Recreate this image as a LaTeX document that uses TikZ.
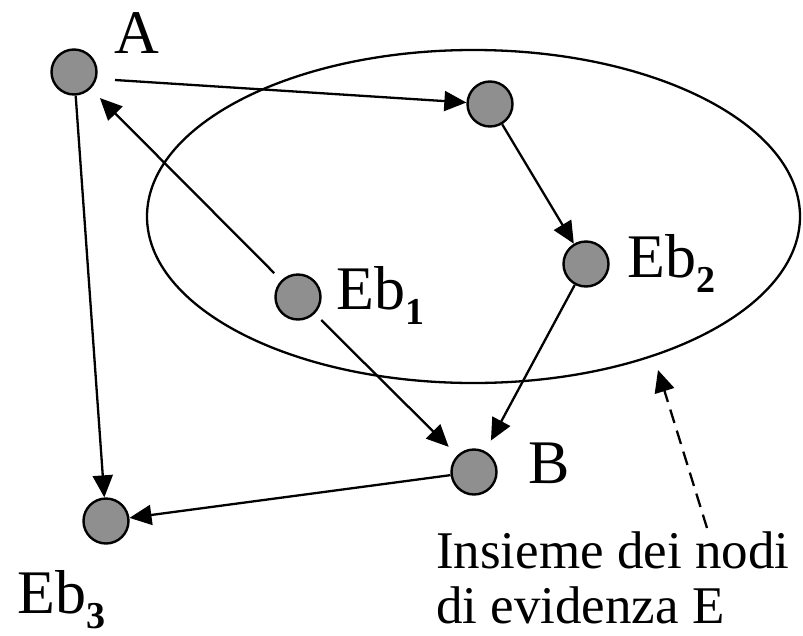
\documentclass[tikz,border=0pt]{standalone}
\usepackage{fontspec}
\setmainfont{Liberation Serif}
\usetikzlibrary{arrows.meta}
\newcommand{\sbd}[1]{\raisebox{-15pt}{\fontsize{38}{38}\selectfont\bfseries #1}}
\begin{document}
\begin{tikzpicture}[x=1pt,y=-1pt,
  vtx/.style={circle,draw=black,line width=2.4pt,fill={rgb,255:red,143;green,143;blue,143},minimum size=45pt,inner sep=0pt},
  lbl/.style={font=\fontsize{62}{62}\selectfont,inner sep=0pt,anchor=base west},
  captxt/.style={font=\fontsize{53}{60}\selectfont,inner sep=0pt,anchor=base west},
  conn/.style={line width=2.3pt,-{Triangle[length=22pt,width=20pt]}},
]
\useasboundingbox (0,0) rectangle (803,635);
\draw[line width=2.3pt] (473.5,216.5) ellipse [x radius=326.5, y radius=166.5];
\node[vtx] (A) at (74,72) {};
\node[vtx] (T) at (490,104) {};
\node[vtx] (E2) at (586,264) {};
\node[vtx] (E1) at (298,297) {};
\node[vtx] (B) at (474,472) {};
\node[vtx] (E3) at (106,521) {};
\node[lbl] (lA) at (114,53) {A};
\node[lbl] (lE1) at (336,309) {Eb\sbd{1}};
\node[lbl] (lE2) at (627,277) {Eb\sbd{2}};
\node[lbl] (lB) at (528,483) {B};
\node[lbl] (lE3) at (17,613) {Eb\sbd{3}};
\node[captxt] (c1) at (436,568) {Insieme dei nodi};
\node[captxt] (c2) at (436,623) {di evidenza E};
\coordinate (dS) at (707,528);
\coordinate (dE) at (658,370);
\draw[conn] ([shift={(41,8)}]A.center) -- (T);
\draw[conn] (T) -- (E2);
\draw[conn,shorten <=10pt,shorten >=13pt] (E1) -- (A);
\draw[conn,shorten <=9pt,shorten >=12pt] (E1) -- (B);
\draw[conn,shorten >=12pt] (E2) -- (B);
\draw[conn] (A) -- (E3);
\draw[conn] (B) -- (E3);
\draw[line width=2.3pt,dash pattern=on 14pt off 8pt,-{Triangle[length=22pt,width=20pt]}] (dS) -- (dE);
\end{tikzpicture}
\end{document}
